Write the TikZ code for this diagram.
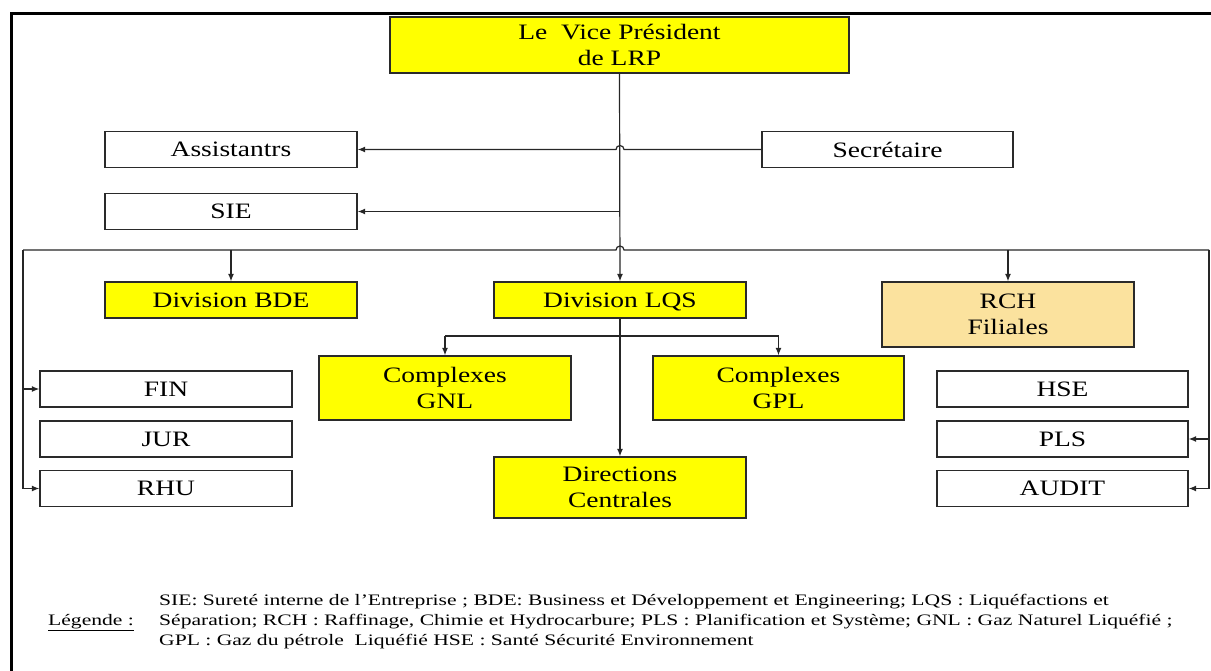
\documentclass[tikz,border=0pt]{standalone}
\usepackage{fontspec}
\setmainfont{Liberation Serif}
\newfontfamily\wfont[FakeStretch=1.25]{Liberation Serif}
\newfontfamily\lfont[FakeStretch=1.35]{Liberation Serif}
\usetikzlibrary{arrows.meta,calc}
\definecolor{boxyellow}{HTML}{FFFF00}
\definecolor{rchfill}{HTML}{FBE29E}
\definecolor{edge}{HTML}{2A2A2A}
\tikzset{
  unit/.style={draw=edge, line width=1.3pt, fill=white, inner sep=0pt,
    align=center, font=\wfont\fontsize{22}{26}\selectfont,
    minimum width=252pt, minimum height=36pt},
  ybox/.style={unit, fill=boxyellow},
  link/.style={draw=black!85, line width=1.2pt},
  arr/.style={link, -{Latex[length=7.5pt,width=6pt]}},
  legfont/.style={font=\lfont\fontsize{16}{20}\selectfont},
}
\begin{document}
\begin{tikzpicture}[x=1pt,y=-1pt]
\useasboundingbox (0,0) rectangle (1211,671);

% outer frame (left and top edges)
\draw[line width=3pt] (11,671) -- (11,13.5) -- (1211,13.5);

% head
\node[ybox, minimum width=459pt, minimum height=56pt] (vp) at (619.5,45) {Le\ \ Vice Président\\de LRP};

% staff units
\node[unit] (ass) at (231,149.5) {Assistantrs};
\node[unit, minimum width=251pt] (sec) at (887.5,149.5) {Secrétaire};
\node[unit] (sie) at (231,211.5) {SIE};

% divisions
\node[ybox] (bde) at (231,300) {Division BDE};
\node[ybox, text depth=0pt] (lqs) at (620,300) {Division LQS};
\node[unit, fill=rchfill, minimum height=65pt] (rch) at (1008,314.5) {RCH\\Filiales};

% left column
\node[unit] (fin) at (166,389) {FIN};
\node[unit] (jur) at (166,439) {JUR};
\node[unit] (rhu) at (166,488.5) {RHU};

% LQS sub-units
\node[ybox, minimum height=64pt] (gnl) at (445,388) {Complexes\\GNL};
\node[ybox, minimum width=251pt, minimum height=64pt] (gpl) at (778.5,388) {Complexes\\GPL};
\node[ybox, minimum height=61pt] (dc) at (620,487.5) {Directions\\Centrales};

% right column
\node[unit, minimum width=251pt] (hse) at (1062.5,389) {HSE};
\node[unit, minimum width=251pt] (pls) at (1062.5,439) {PLS};
\node[unit, minimum width=251pt] (audit) at (1062.5,488.5) {AUDIT};

% bus and branch points
\coordinate (busL) at (23,250);
\coordinate (busR) at (1209,250);
\coordinate (br) at (620,336);

% main spine
\draw[arr] (vp.south) -- (lqs.north);

% secretary to assistants, hopping over the spine
\draw[arr] (sec.west) -- ($(sec.west -| lqs.north)+(4pt,0)$)
  arc[start angle=0, end angle=180, radius=4pt] -- (ass.east);
\draw[arr] (sie.east -| lqs.north) -- (sie.east);

% horizontal bus, hopping over the spine
\draw[link] (busL) -- ($(busL -| lqs.north)+(-4pt,0)$)
  arc[start angle=180, end angle=0, radius=4pt] -- (busR);
\draw[arr] (bde.north |- busL) -- (bde.north);
\draw[arr] (rch.north |- busL) -- (rch.north);

% side feeds
\draw[arr] (busL) |- (rhu.west);
\draw[arr] (fin.west -| busL) -- (fin.west);
\draw[arr] (busR) |- (audit.east);
\draw[arr] (pls.east -| busR) -- (pls.east);

% LQS branches
\draw[link] (br -| gnl.north) -- (br -| gpl.north);
\draw[arr] (br -| gnl.north) -- (gnl.north);
\draw[arr] (br -| gpl.north) -- (gpl.north);
\draw[arr] (lqs.south) -- (dc.north);

% legend
\node[anchor=base west, inner sep=0pt, legfont] (leg) at (48,625.5) {\underline{Légende :}};
\node[anchor=base west, inner sep=0pt, align=left, legfont] (legtext) at (159,645.5)
  {SIE: Sureté interne de l’Entreprise ; BDE: Business et Développement et Engineering; LQS : Liquéfactions et\\
   Séparation; RCH : Raffinage, Chimie et Hydrocarbure; PLS : Planification et Système; GNL : Gaz Naturel Liquéfié ;\\
   GPL : Gaz du pétrole\ \ Liquéfié HSE : Santé Sécurité Environnement};
\end{tikzpicture}
\end{document}
